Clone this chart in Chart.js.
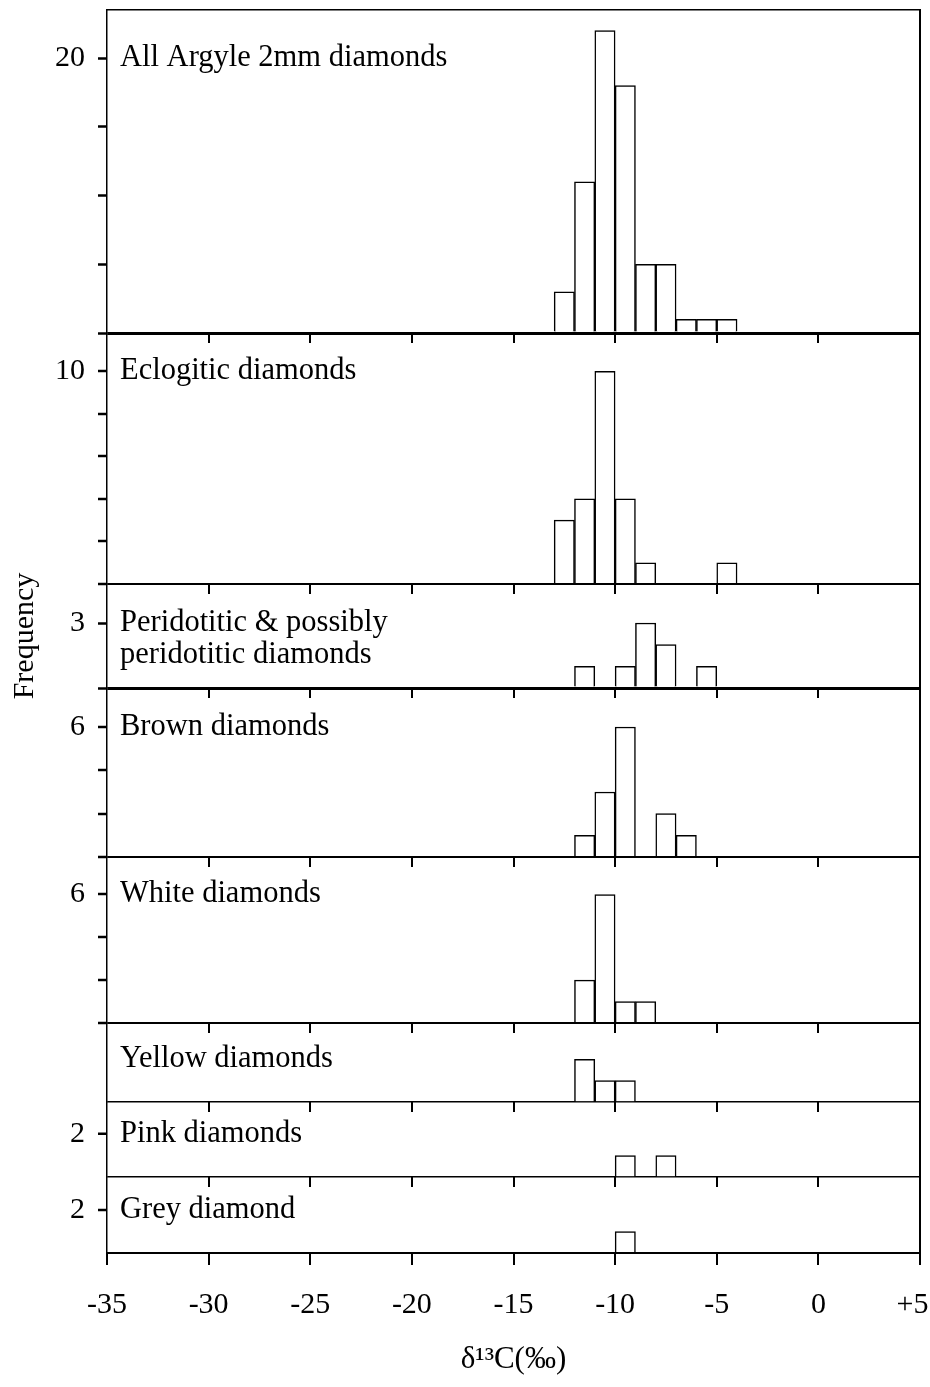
<!DOCTYPE html>
<html>
<head>
<meta charset="utf-8">
<script src="https://cdn.jsdelivr.net/npm/chart.js@4.4.1/dist/chart.umd.min.js"></script>
<style>
  html, body { margin: 0; padding: 0; background: #fff; }
  canvas { display: block; }
</style>
</head>
<body>
<canvas id="c" width="930" height="1387"></canvas>
<script>
// ---- DATA -------------------------------------------------------------
// Mid-points of the 1 per-mil δ13C bins (‰)
const binMid = [-12.5, -11.5, -10.5, -9.5, -8.5, -7.5, -6.5, -5.5, -4.5];

// Frequencies per bin for each panel
const allArgyle   = [3, 11, 22, 18, 5, 5, 1, 1, 1];
const eclogitic   = [3, 4, 10, 4, 1, 0, 0, 0, 1];
const peridotitic = [0, 1, 0, 1, 3, 2, 0, 1, 0];
const brown       = [0, 1, 3, 6, 0, 2, 1, 0, 0];
const white       = [0, 2, 6, 1, 1, 0, 0, 0, 0];
const yellow      = [0, 2, 1, 1, 0, 0, 0, 0, 0];
const pink        = [0, 0, 0, 1, 0, 1, 0, 0, 0];
const grey        = [0, 0, 0, 1, 0, 0, 0, 0, 0];

const panelNames = [
  ['All Argyle 2mm diamonds'],
  ['Eclogitic diamonds'],
  ['Peridotitic & possibly', 'peridotitic diamonds'],
  ['Brown diamonds'],
  ['White diamonds'],
  ['Yellow diamonds'],
  ['Pink diamonds'],
  ['Grey diamond']
];

// Axis ticks
const xTickValues = [-35, -30, -25, -20, -15, -10, -5, 0, 5];
const xTickLabels = ['-35', '-30', '-25', '-20', '-15', '-10', '-5', '0', '+5\u2002'];
const yTickValues = [[0, 5, 10, 15, 20], [0, 2, 4, 6, 8, 10], [0, 3], [0, 2, 4, 6], [0, 2, 4, 6], [0], [0, 2], [0, 2]];
const yTickLabelled = [20, 10, 3, 6, 6, null, 2, 2];

const xTitle = 'δ¹³C(‰)';
const yTitle = 'Frequency';

// ---- LAYOUT / STYLE ---------------------------------------------------
const SERIF = '"Liberation Serif", "DejaVu Serif", serif';
const series = [allArgyle, eclogitic, peridotitic, brown, white, yellow, pink, grey];
// per panel: axis max, relative height, value at which the panel name sits,
// baseline width, whether the baseline tick sticks out to the left
const panelLayout = [
  { max: 23.5, h: 323, titleAt: 20, base: 3,   zeroTick: true },
  { max: 11.8, h: 251, titleAt: 10, base: 2,   zeroTick: true },
  { max: 4.8,  h: 104, titleAt: 3,  base: 3,   zeroTick: true },
  { max: 7.8,  h: 169, titleAt: 6,  base: 2,   zeroTick: true },
  { max: 7.75, h: 166, titleAt: 6,  base: 2,   zeroTick: true },
  { max: 3.7,  h: 79,  titleAt: 2,  base: 1.5, zeroTick: false },
  { max: 3.5,  h: 75,  titleAt: 2,  base: 1.5, zeroTick: false },
  { max: 3.53, h: 76,  titleAt: 2,  base: 2,   zeroTick: false }
];

const scales = {
  x: {
    type: 'linear', position: 'bottom', min: -35, max: 5, offset: false,
    afterBuildTicks: s => { s.ticks = xTickValues.map(v => ({ value: v })); },
    afterFit: s => { s.height = 134; s.paddingLeft = 0; s.paddingRight = 0; },
    ticks: {
      autoSkip: false, maxRotation: 0, padding: 22, color: '#000',
      font: { family: SERIF, size: 30 },
      callback: (v, i) => xTickLabels[i]
    },
    grid: {
      offset: false, drawOnChartArea: true,
      color: c => (c.tick && c.tick.value === 5) ? '#000' : 'rgba(0,0,0,0)',
      lineWidth: 2, drawTicks: true, tickLength: 12, tickColor: '#000', tickWidth: 2
    },
    border: { display: true, color: '#000', width: 2 },
    title: { display: true, text: xTitle, color: '#000', font: { family: SERIF, size: 31 }, padding: { top: 0, bottom: 9 } }
  },
  xt: {
    type: 'linear', position: 'top', min: -35, max: 5,
    ticks: { display: false },
    grid: { display: false, drawTicks: false },
    border: { display: true, color: '#000', width: 1.5 },
    afterFit: s => { s.height = 0; }
  }
};

panelLayout.forEach((p, i) => {
  scales['y' + i] = {
    type: 'linear', position: 'left', stack: 'panels', stackWeight: p.h, weight: 20 - i,
    min: 0, max: p.max, offset: false,
    afterBuildTicks: s => { s.ticks = yTickValues[i].map(v => ({ value: v })); },
    afterFit: s => { s.width = 107; s.paddingTop = 0; s.paddingBottom = 0; },
    ticks: {
      autoSkip: false, padding: 13, color: '#000',
      font: { family: SERIF, size: 30 },
      callback: v => (v === yTickLabelled[i] ? String(v) : '')
    },
    grid: {
      drawOnChartArea: true,
      color: c => (c.tick && c.tick.value === 0) ? '#000' : 'rgba(0,0,0,0)',
      lineWidth: p.base, drawTicks: true, tickLength: 9,
      tickColor: c => (c.tick && c.tick.value === 0 && !p.zeroTick) ? 'rgba(0,0,0,0)' : '#000',
      tickWidth: 2.5
    },
    border: { display: true, color: '#000', width: 1.5 },
    title: i === 2
      ? { display: true, text: yTitle, color: '#000', font: { family: SERIF, size: 30 }, padding: { top: 7, bottom: 0 } }
      : { display: false }
  };
});

const datasets = series.map((arr, i) => ({
  label: panelNames[i].join(' '),
  data: binMid.map((m, j) => ({ x: m, y: arr[j] > 0 ? arr[j] : null })),
  xAxisID: 'x',
  yAxisID: 'y' + i,
  backgroundColor: '#fff',
  borderColor: '#000',
  borderWidth: 1.5,
  borderSkipped: 'start',
  barPercentage: 1,
  categoryPercentage: 1,
  grouped: false
}));

// Panel names and the short x ticks on each inner panel boundary
const panelDecor = {
  id: 'panelDecor',
  afterDraw(chart) {
    const ctx = chart.ctx;
    const xs = chart.scales.x;
    ctx.save();
    ctx.strokeStyle = '#000';
    ctx.lineWidth = 2;
    for (let i = 0; i < panelLayout.length - 1; i++) {
      const y0 = chart.scales['y' + i].getPixelForValue(0);
      xTickValues.slice(1, -1).forEach(v => {
        const x = Math.round(xs.getPixelForValue(v));
        ctx.beginPath();
        ctx.moveTo(x, y0);
        ctx.lineTo(x, y0 + 10);
        ctx.stroke();
      });
    }
    ctx.fillStyle = '#000';
    ctx.font = '30.5px ' + SERIF;
    ctx.textAlign = 'left';
    ctx.textBaseline = 'middle';
    panelLayout.forEach((p, i) => {
      const ys = chart.scales['y' + i];
      const y = ys.getPixelForValue(p.titleAt);
      panelNames[i].forEach((line, k) => {
        ctx.fillText(line, chart.chartArea.left + 13, y + k * 32);
      });
    });
    ctx.restore();
  }
};

new Chart(document.getElementById('c'), {
  type: 'bar',
  data: { datasets },
  options: {
    responsive: false,
    animation: false,
    devicePixelRatio: 1,
    layout: { padding: { top: 10, right: 10, bottom: 0, left: 0 } },
    plugins: { legend: { display: false }, tooltip: { enabled: false } },
    scales
  },
  plugins: [panelDecor]
});
</script>
</body>
</html>
